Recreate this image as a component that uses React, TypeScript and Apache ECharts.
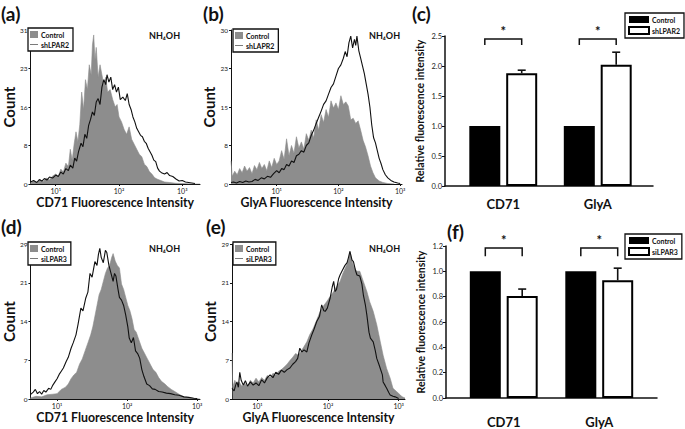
import React, { useEffect, useRef } from 'react';
import * as echarts from 'echarts';

const FONT = 'Lato, "Open Sans", sans-serif';

// ---- histogram axes ----
const decadeTicks = [1, 2, 3];
const decadeLabels = ['10¹', '10²', '10³'];
const aYLabels = ['0', '8', '16', '23', '31'];
const bYLabels = ['0', '8', '15', '23', '30'];
const dYLabels = ['0', '7', '14', '21', '29'];
const eYLabels = ['0', '7', '14', '21', '29'];

// ---- histogram data: [log10 fluorescence intensity, count] ----
const aControl = [[0.60,0.2],[0.65,0.6],[0.70,0.3],[0.75,0.9],[0.80,0.5],[0.85,1.2],[0.90,0.8],[0.95,1.6],[1.00,2.0],[1.04,1.5],[1.08,3.0],[1.12,2.4],[1.16,4.2],[1.20,3.5],[1.23,7.0],[1.26,4.8],[1.29,8.0],[1.32,10.5],[1.35,8.5],[1.38,12],[1.41,18.5],[1.44,15],[1.47,21],[1.50,19],[1.53,24],[1.56,22],[1.58,28],[1.60,30],[1.62,25],[1.64,27.5],[1.67,21.5],[1.70,24],[1.73,22],[1.76,20],[1.79,21.5],[1.82,18.5],[1.86,19],[1.90,17],[1.94,15.5],[1.97,16],[2.00,13.5],[2.04,12.5],[2.08,11],[2.12,10],[2.16,11.5],[2.20,9],[2.24,8],[2.28,7],[2.32,6],[2.36,5.5],[2.40,4],[2.44,3.5],[2.48,2.5],[2.52,2.0],[2.56,1.3],[2.60,1.0],[2.66,0.7],[2.72,0.4],[2.80,0.3],[2.90,0.15],[3.00,0.1],[3.15,0],[3.28,0]];
const aShLPAR2 = [[0.60,0.4],[0.65,0.7],[0.70,0.3],[0.74,0.9],[0.78,0.6],[0.82,1.1],[0.86,0.8],[0.90,1.4],[0.95,1.2],[1.00,1.8],[1.04,1.5],[1.08,2.4],[1.12,2.0],[1.16,3.1],[1.20,2.7],[1.23,3.8],[1.27,3.2],[1.30,5.2],[1.33,4.6],[1.36,6.5],[1.40,8.2],[1.43,7.5],[1.46,10],[1.49,9.2],[1.52,11.8],[1.55,13],[1.58,14.5],[1.61,13.8],[1.64,16.5],[1.67,17.2],[1.70,16],[1.73,19.5],[1.76,21],[1.79,20],[1.81,22],[1.84,20.5],[1.87,21.5],[1.90,19],[1.93,20],[1.96,18.5],[1.99,19.5],[2.02,17],[2.06,17.5],[2.10,16.8],[2.13,18.2],[2.16,16],[2.19,15],[2.22,13.5],[2.25,12.5],[2.28,11.2],[2.31,10.5],[2.34,9.8],[2.37,9.5],[2.40,8.6],[2.43,8.2],[2.46,7.2],[2.49,6.5],[2.52,5.8],[2.55,4.8],[2.58,4.5],[2.61,3.2],[2.64,2.6],[2.68,2.2],[2.72,2.0],[2.76,2.3],[2.80,1.7],[2.85,1.5],[2.90,1.0],[2.95,0.6],[3.00,0.7],[3.05,0.4],[3.10,0.3],[3.20,0.1]];

const bControl = [[0.26,4.5],[0.28,1.5],[0.32,2.5],[0.36,1.8],[0.40,3.0],[0.44,2.2],[0.48,3.5],[0.52,2.5],[0.56,3.2],[0.60,2.0],[0.64,3.6],[0.68,2.8],[0.72,4.2],[0.76,3.0],[0.80,3.8],[0.84,2.6],[0.88,4.5],[0.92,3.2],[0.96,5.0],[1.00,3.8],[1.04,4.5],[1.08,6.5],[1.12,4.8],[1.16,8.8],[1.20,5.5],[1.24,7.5],[1.28,6.0],[1.32,9.2],[1.36,7.0],[1.40,8.2],[1.44,6.8],[1.48,9.8],[1.52,8.5],[1.56,10.5],[1.60,9.0],[1.64,12.5],[1.68,10.5],[1.72,13.5],[1.76,12],[1.80,14.5],[1.84,13],[1.88,16.2],[1.92,14.8],[1.96,15.8],[2.00,14.5],[2.04,17.2],[2.08,15.5],[2.12,16],[2.16,15.2],[2.20,12.5],[2.24,12.8],[2.28,11.8],[2.32,12.3],[2.36,10.5],[2.40,8.5],[2.44,7.2],[2.48,5.5],[2.52,3.5],[2.56,2.2],[2.60,1.2],[2.66,0.6],[2.72,0.3],[2.80,0.1],[2.90,0]];
const bShLAPR2 = [[0.26,0.3],[0.30,0.4],[0.35,0.2],[0.40,0.5],[0.45,0.3],[0.50,0.6],[0.55,0.4],[0.60,0.5],[0.65,0.9],[0.70,0.7],[0.75,1.2],[0.80,1.0],[0.85,1.5],[0.90,1.3],[0.95,2.0],[1.00,2.6],[1.04,2.2],[1.08,3.0],[1.12,2.8],[1.16,3.8],[1.20,3.5],[1.24,4.5],[1.28,4.2],[1.32,5.5],[1.36,5.8],[1.40,6.5],[1.44,6.2],[1.48,7.5],[1.52,8.0],[1.56,9.5],[1.60,10.5],[1.64,11.8],[1.68,13.0],[1.72,14.2],[1.76,15.5],[1.80,16.2],[1.84,17.5],[1.88,18.8],[1.92,19.5],[1.96,21.0],[2.00,22.5],[2.04,23.2],[2.08,24.5],[2.11,25.8],[2.14,24.8],[2.17,27.5],[2.20,28.8],[2.23,26.5],[2.26,28.2],[2.28,27.0],[2.30,28.8],[2.33,26.0],[2.36,24.5],[2.39,23.0],[2.42,21.5],[2.45,19.5],[2.48,17.5],[2.51,15.0],[2.54,11.5],[2.57,9.0],[2.60,8.0],[2.63,6.5],[2.66,5.0],[2.69,4.0],[2.72,2.8],[2.76,1.8],[2.80,1.2],[2.85,0.7],[2.90,0.4],[2.96,0.2],[3.00,0.1]];

const dControl = [[0.62,0.2],[0.70,0.5],[0.78,0.4],[0.86,0.8],[0.94,0.9],[1.00,1.0],[1.06,1.8],[1.12,2.2],[1.16,2.8],[1.20,3.8],[1.24,4.5],[1.28,5.0],[1.32,6.5],[1.36,7.5],[1.40,9.0],[1.44,10.5],[1.48,12],[1.51,13.5],[1.54,15.5],[1.57,17.5],[1.60,19.5],[1.63,20.5],[1.66,22],[1.69,23.5],[1.72,24.5],[1.75,25],[1.78,26.5],[1.80,27.2],[1.83,25.8],[1.86,25],[1.89,24.5],[1.92,21.5],[1.95,20.5],[1.98,19],[2.01,17.5],[2.04,16.5],[2.07,15],[2.10,13],[2.13,12.5],[2.17,11],[2.21,9.5],[2.25,8.5],[2.29,7.5],[2.33,6.5],[2.37,5.5],[2.41,5.0],[2.45,4.0],[2.49,3.3],[2.54,2.8],[2.58,2.3],[2.63,1.8],[2.68,1.4],[2.74,0.9],[2.81,0.4],[2.90,0.2],[2.98,0.1],[3.04,0]];
const dSiLPAR3 = [[0.62,0.8],[0.66,1.3],[0.69,1.8],[0.72,1.0],[0.75,1.4],[0.78,0.9],[0.81,1.6],[0.84,1.3],[0.88,2.0],[0.91,1.8],[0.94,2.6],[0.97,3.2],[1.00,3.8],[1.03,4.6],[1.06,5.2],[1.09,5.8],[1.13,7.0],[1.16,7.8],[1.20,9.5],[1.23,10.5],[1.27,12.0],[1.30,14.0],[1.34,17.0],[1.37,16.5],[1.41,18.9],[1.44,20.0],[1.47,23.5],[1.50,22.8],[1.54,25.7],[1.57,25.0],[1.59,27.0],[1.61,28.2],[1.63,26.5],[1.66,25.5],[1.69,27.8],[1.71,27.4],[1.74,25.0],[1.77,23.5],[1.80,22.0],[1.82,23.5],[1.84,23.0],[1.87,20.5],[1.89,19.0],[1.92,18.5],[1.95,17.5],[1.98,15.7],[2.01,13.5],[2.03,11.4],[2.06,10.5],[2.09,11.5],[2.12,9.0],[2.15,8.5],[2.18,7.6],[2.21,5.5],[2.24,4.2],[2.28,2.8],[2.32,2.5],[2.36,1.9],[2.40,1.8],[2.45,1.4],[2.50,1.3],[2.56,1.1],[2.62,1.0],[2.68,0.8],[2.74,0.7],[2.81,0.4],[2.88,0.3],[2.95,0.15],[3.00,0.1]];

const eControl = [[0.64,8.6],[0.65,2.2],[0.68,3.5],[0.71,2.5],[0.74,3.2],[0.78,2.4],[0.82,3.0],[0.86,2.2],[0.90,3.5],[0.94,3.0],[0.98,3.9],[1.02,3.2],[1.06,4.0],[1.10,3.5],[1.14,4.4],[1.18,4.0],[1.22,4.8],[1.26,4.5],[1.30,5.2],[1.34,5.5],[1.38,6.0],[1.42,6.5],[1.46,7.2],[1.50,7.8],[1.54,8.5],[1.58,8.2],[1.62,9.0],[1.66,9.8],[1.70,10.7],[1.74,12.0],[1.79,13.2],[1.84,14.8],[1.89,16.4],[1.94,17.5],[1.98,18.2],[2.03,19.2],[2.08,20.1],[2.12,21.0],[2.17,22.0],[2.21,23.5],[2.26,25.0],[2.29,26.0],[2.31,27.6],[2.34,25.8],[2.36,25.0],[2.39,24.2],[2.41,23.9],[2.45,23.9],[2.50,22.0],[2.55,20.1],[2.59,18.2],[2.64,16.4],[2.69,13.9],[2.74,10.7],[2.78,8.2],[2.83,5.7],[2.88,3.9],[2.92,2.0],[2.97,1.4],[3.02,0.8],[3.05,0.4],[3.09,0.2]];
const eSiLPAR3 = [[0.64,2.0],[0.67,1.5],[0.69,2.5],[0.71,3.2],[0.73,2.2],[0.75,5.0],[0.77,3.5],[0.80,2.6],[0.83,3.4],[0.86,2.4],[0.90,3.2],[0.94,2.6],[0.98,3.0],[1.02,2.5],[1.06,3.6],[1.10,3.0],[1.14,4.0],[1.18,4.5],[1.22,4.0],[1.26,5.0],[1.30,4.6],[1.34,5.4],[1.38,5.0],[1.42,5.5],[1.46,5.8],[1.50,6.5],[1.54,7.0],[1.57,7.6],[1.60,9.5],[1.63,8.8],[1.66,9.2],[1.70,8.8],[1.73,10.5],[1.77,12.0],[1.80,13.0],[1.84,14.5],[1.88,15.5],[1.91,17.6],[1.94,16.5],[1.96,16.4],[1.99,17.0],[2.03,18.9],[2.06,21.0],[2.08,22.0],[2.10,20.1],[2.12,20.5],[2.15,22.5],[2.17,23.2],[2.20,24.0],[2.24,25.0],[2.27,25.5],[2.29,26.5],[2.31,27.6],[2.34,26.0],[2.36,25.7],[2.39,24.0],[2.41,23.2],[2.45,23.0],[2.48,21.5],[2.50,19.5],[2.53,17.5],[2.55,15.7],[2.58,12.5],[2.60,11.4],[2.64,10.7],[2.67,9.0],[2.69,7.6],[2.72,6.5],[2.74,5.7],[2.77,4.5],[2.78,3.2],[2.81,2.5],[2.83,2.0],[2.86,1.2],[2.88,0.75],[2.92,0.5],[2.95,0.4],[3.00,0.1]];

// ---- bar charts ----
const barCategories = ['CD71', 'GlyA'];
const cControl = [1.0, 1.0];
const cShLPAR2 = [1.88, 2.02];
const cShLPAR2Err = [0.05, 0.21];
const fControl = [1.0, 1.0];
const fSiLPAR3 = [0.805, 0.93];
const fSiLPAR3Err = [0.055, 0.095];

const GRAY = '#8d8d8d';
const INK = '#111';
const BAR_W = 31;
const BAR_GAP = 0.19;
const BAR_OFF = (BAR_W + BAR_W * BAR_GAP) / 2;
const LINE_ICON = 'path://M0,0M0,4.3L20,4.3L20,5.7L0,5.7ZM20,10';

const displayName = (n: string) => n.split('|')[0];

function buildOption() {
  const grid: any[] = [];
  const xAxis: any[] = [];
  const yAxis: any[] = [];
  const series: any[] = [];
  const legend: any[] = [];

  const hists = [
    { key: 'a', box: { left: 25, top: 30, width: 175, height: 154 }, xMin: 0.6, xMax: 3.28, yMax: 31, yLabels: aYLabels, xName: 'CD71 Fluorescence Intensity', ctrl: aControl, treat: aShLPAR2, treatName: 'shLPAR2', lg: { left: 28, top: 28 } },
    { key: 'b', box: { left: 231, top: 30, width: 171, height: 154 }, xMin: 0.26, xMax: 3.03, yMax: 30, yLabels: bYLabels, xName: 'GlyA Fluorescence Intensity', ctrl: bControl, treat: bShLAPR2, treatName: 'shLAPR2', lg: { left: 233, top: 29 } },
    { key: 'd', box: { left: 25, top: 244, width: 175, height: 155 }, xMin: 0.62, xMax: 3.04, yMax: 29, yLabels: dYLabels, xName: 'CD71 Fluorescence Intensity', ctrl: dControl, treat: dSiLPAR3, treatName: 'siLPAR3', lg: { left: 28, top: 242 } },
    { key: 'e', box: { left: 232, top: 244, width: 173, height: 155 }, xMin: 0.64, xMax: 3.09, yMax: 29, yLabels: eYLabels, xName: 'GlyA Fluorescence Intensity', ctrl: eControl, treat: eSiLPAR3, treatName: 'siLPAR3', lg: { left: 233, top: 242 } },
  ];

  hists.forEach((h) => {
    const gi = grid.length;
    grid.push({ ...h.box, containLabel: false });
    xAxis.push({
      gridIndex: gi, type: 'value', min: h.xMin, max: h.xMax,
      axisLine: { show: true, onZero: false, lineStyle: { color: INK, width: 1 } },
      splitLine: { show: false },
      axisTick: { show: true, customValues: decadeTicks, length: 2, lineStyle: { color: INK } },
      axisLabel: { customValues: decadeTicks, formatter: (v: number) => decadeLabels[decadeTicks.indexOf(Math.round(v))] || '', fontSize: 7, color: '#222', margin: 3, fontFamily: FONT },
      name: h.xName, nameLocation: 'middle', nameGap: 12,
      nameTextStyle: { fontSize: 12.3, fontWeight: 'bold', fontFamily: FONT, color: INK },
    });
    const step = h.yMax / 4;
    yAxis.push({
      gridIndex: gi, type: 'value', min: 0, max: h.yMax, interval: step,
      axisLine: { show: true, lineStyle: { color: INK, width: 1 } },
      splitLine: { show: false },
      axisTick: { show: true, length: 2, lineStyle: { color: INK } },
      axisLabel: { formatter: (v: number) => h.yLabels[Math.round(v / step)], fontSize: 6.5, color: '#222', margin: 3, fontFamily: FONT },
      name: 'Count', nameLocation: 'middle', nameGap: 11,
      nameTextStyle: { fontSize: 15, fontWeight: 'bold', fontFamily: FONT, color: INK },
    });
    const ctrlKey = 'Control|' + h.key;
    const treatKey = h.treatName + '|' + h.key;
    series.push({
      type: 'line', name: ctrlKey, xAxisIndex: gi, yAxisIndex: gi, data: h.ctrl,
      symbol: 'none', lineStyle: { width: 0.6, color: GRAY }, itemStyle: { color: GRAY },
      areaStyle: { color: GRAY, opacity: 1 }, z: 2,
    });
    series.push({
      type: 'line', name: treatKey, xAxisIndex: gi, yAxisIndex: gi, data: h.treat,
      symbol: 'none', lineStyle: { width: 1.1, color: INK }, itemStyle: { color: INK }, z: 3,
    });
    const lgText = { fontSize: 7, fontWeight: 'bold', fontFamily: FONT, color: INK, padding: [0, 0, 0, -2] };
    legend.push({
      ...h.lg, orient: 'vertical', selectedMode: false,
      data: [{ name: ctrlKey, icon: 'rect', textStyle: lgText }, { name: treatKey, icon: LINE_ICON, textStyle: lgText }],
      itemWidth: 8, itemHeight: 7, itemGap: 3, padding: [3, 4, 3, 2],
      borderColor: INK, borderWidth: 1.3, backgroundColor: '#fff',
      formatter: displayName,
      textStyle: lgText,
    });
  });

  const bars = [
    { key: 'c', axesBox: { left: 445, top: 36, width: 208, height: 150 }, barBox: { left: 456, top: 36, width: 189, height: 150 }, yMax: 2.5, yStep: 0.5, ctrl: cControl, treat: cShLPAR2, err: cShLPAR2Err, treatName: 'shLPAR2', sigTop: 2.45, sigLeg: 2.35, catMargin: 11, lg: { left: 625, top: 13 } },
    { key: 'f', axesBox: { left: 446, top: 246, width: 211, height: 152 }, barBox: { left: 456, top: 246, width: 191, height: 152 }, yMax: 1.2, yStep: 0.2, ctrl: fControl, treat: fSiLPAR3, err: fSiLPAR3Err, treatName: 'siLPAR3', sigTop: 1.184, sigLeg: 1.12, catMargin: 17, lg: { left: 625, top: 234 } },
  ];

  bars.forEach((b) => {
    const ga = grid.length;
    grid.push({ ...b.axesBox });
    xAxis.push({ gridIndex: ga, type: 'value', min: 0, max: 1, axisLine: { show: true, onZero: false, lineStyle: { color: INK, width: 1.5 } }, axisTick: { show: false }, axisLabel: { show: false }, splitLine: { show: false } });
    yAxis.push({
      gridIndex: ga, type: 'value', min: 0, max: b.yMax, interval: b.yStep,
      axisLine: { show: true, lineStyle: { color: INK, width: 1.5 } },
      axisTick: { show: true, length: 3, lineStyle: { color: INK } },
      splitLine: { show: false },
      axisLabel: { formatter: (v: number) => v.toFixed(1), fontSize: 7.5, color: '#222', margin: 3, fontFamily: FONT },
      name: 'Relative fluorescence intensity', nameLocation: 'middle', nameGap: 20,
      nameTextStyle: { fontSize: 10.5, fontWeight: 'bold', fontFamily: FONT, color: INK },
    });
    const gb = grid.length;
    grid.push({ ...b.barBox });
    xAxis.push({
      gridIndex: gb, type: 'category', data: barCategories,
      axisLine: { show: false }, axisTick: { show: false },
      axisLabel: { fontSize: 13, fontWeight: 'bold', fontFamily: FONT, color: INK, margin: b.catMargin },
    });
    yAxis.push({ gridIndex: gb, type: 'value', min: 0, max: b.yMax, show: false });
    const ctrlKey = 'Control|' + b.key;
    const treatKey = b.treatName + '|' + b.key;
    series.push({
      type: 'bar', name: ctrlKey, xAxisIndex: gb, yAxisIndex: gb, data: b.ctrl,
      barWidth: BAR_W, barGap: Math.round(BAR_GAP * 100) + '%',
      itemStyle: { color: '#000' },
    });
    series.push({
      type: 'bar', name: treatKey, xAxisIndex: gb, yAxisIndex: gb, data: b.treat,
      barWidth: BAR_W, itemStyle: { color: '#fff', borderColor: '#000', borderWidth: 2 },
    });
    series.push({
      type: 'custom', xAxisIndex: gb, yAxisIndex: gb, z: 5,
      data: b.treat.map((v, i) => [i, v, b.err[i]]),
      renderItem: (_p: any, api: any) => {
        const base = api.coord([api.value(0), api.value(1)]);
        const top = api.coord([api.value(0), api.value(1) + api.value(2)]);
        const x = base[0] + BAR_OFF;
        return {
          type: 'group', children: [
            { type: 'line', shape: { x1: x, y1: base[1], x2: x, y2: top[1] }, style: { stroke: INK, lineWidth: 1.6 } },
            { type: 'line', shape: { x1: x - 4, y1: top[1], x2: x + 4, y2: top[1] }, style: { stroke: INK, lineWidth: 1.6 } },
          ],
        };
      },
    });
    series.push({
      type: 'custom', xAxisIndex: gb, yAxisIndex: gb, z: 5, clip: false,
      data: barCategories.map((_c, i) => [i, b.sigTop, b.sigLeg]),
      renderItem: (_p: any, api: any) => {
        const t = api.coord([api.value(0), api.value(1)]);
        const l = api.coord([api.value(0), api.value(2)]);
        const x1 = t[0] - BAR_OFF, x2 = t[0] + BAR_OFF;
        return {
          type: 'group', children: [
            { type: 'polyline', shape: { points: [[x1, l[1]], [x1, t[1]], [x2, t[1]], [x2, l[1]]] }, style: { stroke: INK, lineWidth: 1.5, fill: null } },
            { type: 'text', x: t[0], y: t[1] - 2, style: { text: '*', fontSize: 13, fontWeight: 'bold', fontFamily: FONT, fill: INK, align: 'center', verticalAlign: 'bottom' } },
          ],
        };
      },
    });
    const lgText = { fontSize: 7, fontWeight: 'bold', fontFamily: FONT, color: INK, padding: [0, 0, 0, -2] };
    legend.push({
      ...b.lg, orient: 'vertical', selectedMode: false,
      data: [{ name: ctrlKey, icon: 'rect', textStyle: lgText }, { name: treatKey, icon: 'rect', textStyle: lgText }],
      itemWidth: 20, itemHeight: 7, itemGap: 3, padding: [3, 4, 3, 3],
      borderColor: INK, borderWidth: 1.3, backgroundColor: '#fff',
      formatter: displayName,
      textStyle: lgText,
    });
  });

  const panelLabel = (text: string, left: number, top: number) => ({ text, left, top, padding: 0, textStyle: { fontSize: 19, fontWeight: 'bold', fontFamily: FONT, color: INK, lineHeight: 22 } });
  const nh = (left: number, top: number) => ({ text: 'NH₄OH', left, top, padding: 0, textStyle: { fontSize: 9, fontWeight: 'bold', fontFamily: FONT, color: INK } });
  const title = [
    panelLabel('(a)', 1, 2), panelLabel('(b)', 203, 2), panelLabel('(c)', 412, 2),
    panelLabel('(d)', 1, 215), panelLabel('(e)', 206, 215), panelLabel('(f)', 447, 220),
    nh(149, 31), nh(369, 31), nh(149, 244), nh(369, 244),
  ];

  return { animation: false, backgroundColor: '#fff', title, grid, xAxis, yAxis, series, legend };
}

export default function App() {
  const ref = useRef<HTMLDivElement>(null);
  useEffect(() => {
    const chart = echarts.init(ref.current!, null, { renderer: 'svg' });
    chart.setOption(buildOption() as any);
    return () => chart.dispose();
  }, []);
  return <div ref={ref} style={{ position: 'fixed', left: 0, top: 0, width: 685, height: 429, background: '#fff' }} />;
}
